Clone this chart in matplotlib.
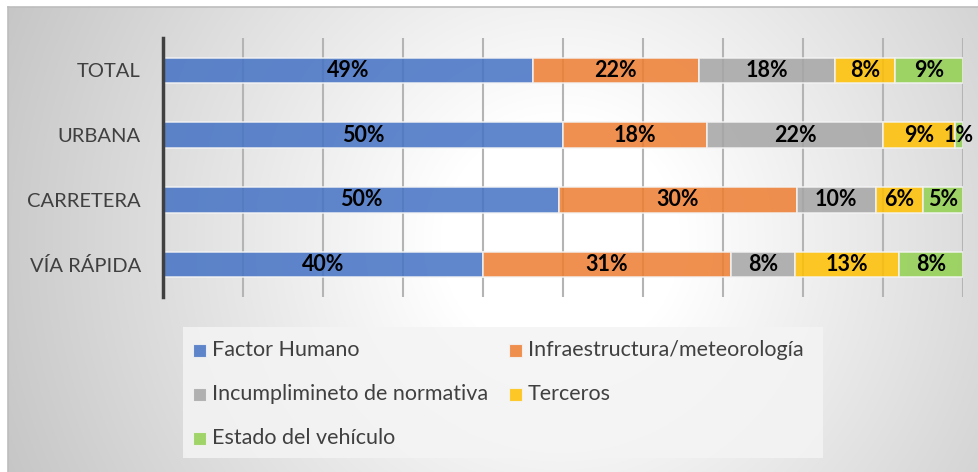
import numpy as np
import matplotlib
matplotlib.use("Agg")
import matplotlib.pyplot as plt
from matplotlib.patches import Rectangle

categories = ["TOTAL", "URBANA", "CARRETERA", "VÍA RÁPIDA"]
series_names = ["Factor Humano", "Infraestructura/meteorología",
                "Incumplimineto de normativa", "Terceros", "Estado del vehículo"]
factor_humano = [49, 50, 50, 40]
infraestructura = [22, 18, 30, 31]
incumplimiento = [18, 22, 10, 8]
terceros = [8, 9, 6, 13]
estado = [9, 1, 5, 8]
colors = ["#4472C4", "#ED7D31", "#A5A5A5", "#FFC000", "#92D050"]

plt.rcParams['font.family'] = ['Lato', 'DejaVu Sans']

W, H = 979, 472
fig = plt.figure(figsize=(W / 100, H / 100), dpi=100)
fig.patch.set_facecolor("white")

# overlay axes in pixel coordinates (for background & legend)
bg = fig.add_axes([0, 0, 1, 1], zorder=-10)
bg.set_xlim(0, W)
bg.set_ylim(H, 0)
bg.axis("off")
bw, bh = W - 8, H - 7
yy, xx = np.mgrid[0:bh, 0:bw]
cx, cy = 560 - 8, 240 - 7
r = np.hypot(xx - cx, yy - cy)
t = np.clip((r - 120) / 480, 0, 1)
val = 1.0 - t * (1 - 0xc6 / 255)
img = np.dstack([val, val, val])
bg.imshow(img, aspect="auto", extent=[8, W, H, 7], interpolation="bilinear")
bg.set_xlim(0, W)
bg.set_ylim(H, 0)
bg.plot([8, 8], [H, 7], color="#bdbdbd", lw=1.2)
bg.plot([8, W], [7, 7], color="#bdbdbd", lw=1.2)

ax = fig.add_axes([163 / W, 1 - 297 / H, 800 / W, (297 - 38) / H])
ax.set_facecolor("none")

data = np.array([factor_humano, infraestructura, incumplimiento, terceros, estado], dtype=float)
totals = data.sum(axis=0)
norm = data / totals * 100
ypos = np.arange(len(categories))
left = np.zeros(len(categories))
for k in range(len(series_names)):
    ax.barh(ypos, norm[k], left=left, height=0.39, color=colors[k], alpha=0.85,
            edgecolor="#f4f4f4", linewidth=1.2, zorder=3, label=series_names[k])
    for i in range(len(categories)):
        ax.text(left[i] + norm[k][i] / 2, ypos[i], f"{int(data[k][i])}%",
                ha="center", va="center", fontsize=15.5, fontweight="bold",
                color="black", zorder=5)
    left += norm[k]

ax.set_xlim(0, 100)
ax.set_ylim(len(categories) - 0.5, -0.5)
ax.set_xticks(np.arange(0, 101, 10))
ax.xaxis.grid(True, color="#b4b4b4", linewidth=1.5, zorder=0)
ax.set_axisbelow(True)
ax.tick_params(axis="x", length=0, labelbottom=False)
ax.tick_params(axis="y", length=0, pad=16, labelsize=14.5, labelcolor="#404040")
ax.set_yticks(ypos)
ax.set_yticklabels(categories)
for s in ["top", "right", "bottom"]:
    ax.spines[s].set_visible(False)
ax.spines["left"].set_color("#404040")
ax.spines["left"].set_linewidth(2.5)
ax.spines["left"].set_zorder(6)

# legend drawn in pixel coordinates
bg.add_patch(Rectangle((183, 327), 823 - 183, 458 - 327, facecolor="#f4f4f4",
                       edgecolor="none", alpha=0.85, zorder=2))
positions = [(193, 350.5), (509, 350.5), (193, 394.5), (509, 394.5), (193, 438)]
for k, (px, py) in enumerate(positions):
    bg.add_patch(Rectangle((px, py - 6.5), 13, 13, facecolor=colors[k], alpha=0.85,
                           edgecolor="#f4f4f4", linewidth=0.8, zorder=3))
    bg.text(px + 19, py, series_names[k], fontsize=15.5, color="#404040",
            ha="left", va="center", zorder=4)

fig.savefig("out.png", dpi=100, facecolor="white")
